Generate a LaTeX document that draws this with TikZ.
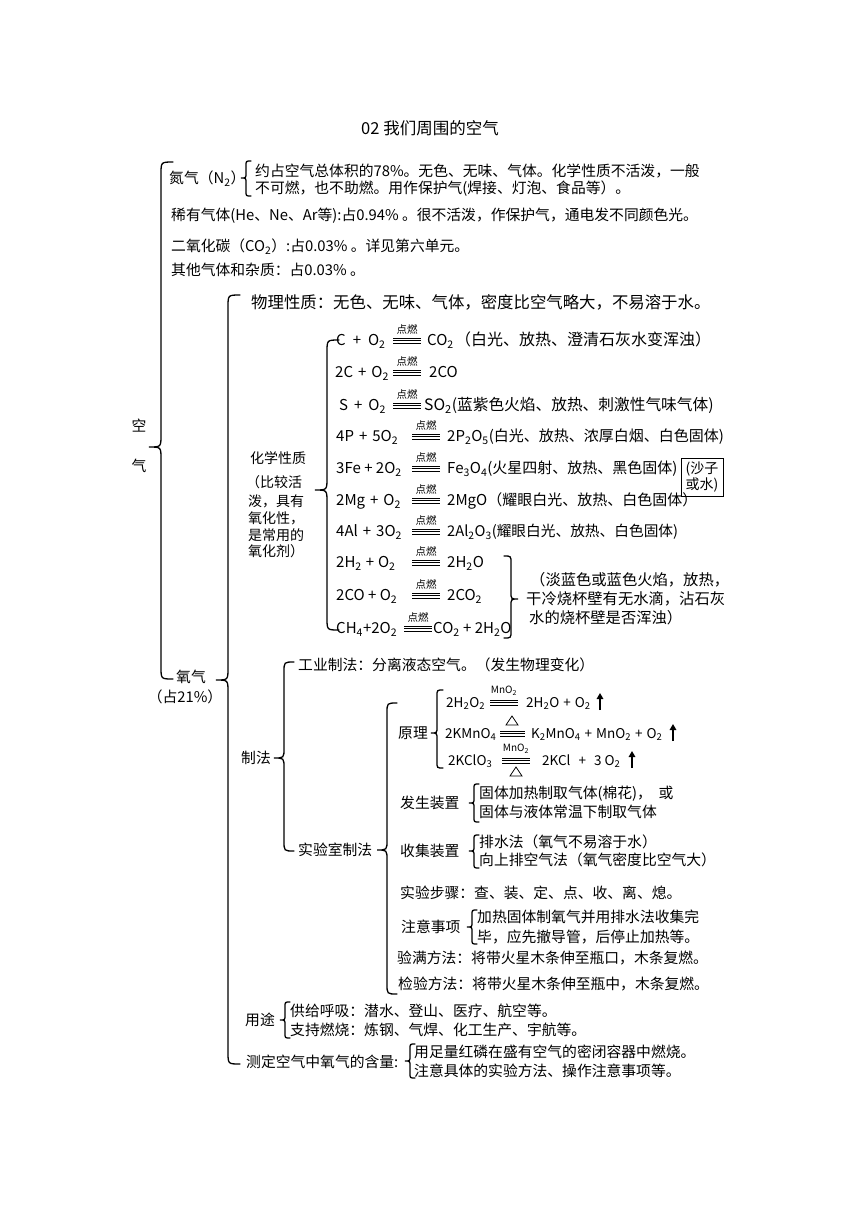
\documentclass[tikz,border=0pt]{standalone}
\usepackage{fontspec}
\setmainfont{Noto Sans CJK SC}
\usetikzlibrary{arrows.meta}
\newcommand\fA{\fontsize{14.8pt}{17pt}\selectfont}
\newcommand\fC{\fontsize{15pt}{17pt}\selectfont}
\newcommand\fF{\fontsize{13.5pt}{16pt}\selectfont}
\newcommand\fL{\fontsize{10.5pt}{11pt}\selectfont}
\newcommand\sbs[1]{\textsubscript{#1}}
\newcommand\pls[1]{\hspace{#1pt}+\hspace{#1pt}}
\newcommand\lbr[5]{\draw[brc] ({#1+#5},#2) .. controls (#1,#2) .. (#1,{#2+#5}) -- (#1,{#3-#5}) .. controls (#1,#3) .. ({#1-#5},#3) .. controls (#1,#3) .. (#1,{#3+#5}) -- (#1,{#4-#5}) .. controls (#1,#4) .. ({#1+#5},#4);}
\newcommand\rbr[5]{\draw[brc] ({#1-#5},#2) .. controls (#1,#2) .. (#1,{#2+#5}) -- (#1,{#3-#5}) .. controls (#1,#3) .. ({#1+#5},#3) .. controls (#1,#3) .. (#1,{#3+#5}) -- (#1,{#4-#5}) .. controls (#1,#4) .. ({#1-#5},#4);}
\newcommand\eql[3]{\draw[eqln] (#1,{#3-2}) -- (#2,{#3-2}) (#1,{#3+0.6}) -- (#2,{#3+0.6}) (#1,{#3+3.2}) -- (#2,{#3+3.2});}
\newcommand\uar[2]{\draw[uarr] (#1,{#2+8}) -- (#1,{#2-9});}
\newcommand\tri[2]{\draw[line width=0.8pt, line join=miter] ({#1-6},{#2+4}) -- (#1,{#2-5}) -- ({#1+6},{#2+4}) -- cycle;}
\begin{document}
\begin{tikzpicture}[x=1pt,y=-1pt,
  brc/.style={line width=1.3pt, line cap=round},
  eqln/.style={line width=0.7pt},
  uarr/.style={line width=1.8pt, -{Triangle[width=6.5pt,length=6pt]}},
  tx/.style={anchor=base west, inner sep=0pt, yshift=-5.5pt, font=\fA},
  cx/.style={anchor=base west, inner sep=0pt, yshift=-5.5pt, font=\fC},
  fx/.style={anchor=base west, inner sep=0pt, yshift=-5.5pt, font=\fF},
  ctx/.style={inner sep=0pt, font=\fA},
  lab/.style={inner sep=0pt, font=\fL}]
\fill[white] (0,0) rectangle (860,1216);
\useasboundingbox (0,0) rectangle (860,1216);

% title
\node[inner sep=0pt, font=\fontsize{16.5pt}{18pt}\selectfont] (title) at (430,128) {02 我们周围的空气};

% air
\node[ctx] (kong) at (139,426) {空};
\node[ctx] (qi) at (139,466) {气};
\lbr{161}{162}{447}{679}{12}

\node[tx] (n2) at (169,178) {氮气（N\sbs{2}）};
\lbr{246}{161}{178}{196}{5}
\node[tx] (n2a) at (255,171) {约占空气总体积的78\%。无色、无味、气体。化学性质不活泼，一般};
\node[tx] (n2b) at (255,188) {不可燃，也不助燃。用作保护气(焊接、灯泡、食品等）。};
\node[tx] (rare) at (171,215) {稀有气体(He、Ne、Ar等):占0.94\% 。很不活泼，作保护气，通电发不同颜色光。};
\node[tx] (co2) at (171,246) {二氧化碳（CO\sbs{2}）:占0.03\% 。详见第六单元。};
\node[tx] (other) at (171,270) {其他气体和杂质：占0.03\% 。};

% oxygen
\node[ctx] (o2a) at (191,677) {氧气};
\node[ctx] (o2b) at (185,697) {（占21\%）};
\lbr{228}{295}{680}{1064}{12}

\node[tx, font=\fontsize{16.4pt}{18pt}\selectfont] (phys) at (251,303) {物理性质：无色、无味、气体，密度比空气略大，不易溶于水。};

% chemical properties
\node[tx, font=\fontsize{14pt}{16pt}\selectfont] (c1) at (250,458) {化学性质};
\node[tx, font=\fontsize{14pt}{16pt}\selectfont] (c2) at (246,482) {（比较活};
\node[tx, font=\fontsize{14pt}{16pt}\selectfont] (c3) at (248,501) {泼，具有};
\node[tx, font=\fontsize{14pt}{16pt}\selectfont] (c4) at (248,518) {氧化性，};
\node[tx, font=\fontsize{14pt}{16pt}\selectfont] (c5) at (248,535) {是常用的};
\node[tx, font=\fontsize{14pt}{16pt}\selectfont] (c6) at (248,551) {氧化剂）};
\lbr{327}{340}{490}{630}{12}

\node[cx] (r1) at (336,340) {C\pls{7}O\sbs{2}};
\eql{393}{421}{340} \node[lab] (e1) at (407,329) {点燃};
\node[cx] (p1) at (427,340) {CO\sbs{2}};
\node[cx, font=\fontsize{16pt}{18pt}\selectfont] (p1b) at (455,340) {（白光、放热、澄清石灰水变浑浊）};

\node[cx] (r2) at (335,372) {2C\pls{5}O\sbs{2}};
\eql{393}{421}{372} \node[lab] (e2) at (407,361) {点燃};
\node[cx] (p2) at (429,372) {2CO};

\node[cx] (r3) at (339,405) {S\pls{6}O\sbs{2}};
\eql{393}{421}{405} \node[lab] (e3) at (407,394) {点燃};
\node[cx, font=\fontsize{15.7pt}{18pt}\selectfont] (p3) at (424,405) {SO\sbs{2}(蓝紫色火焰、放热、刺激性气味气体)};

\node[cx] (r4) at (336,436) {4P\pls{5}5O\sbs{2}};
\eql{412}{440}{436} \node[lab] (e4) at (426,425) {点燃};
\node[cx] (p4) at (447,436) {2P\sbs{2}O\sbs{5}(白光、放热、浓厚白烟、白色固体)};

\node[cx] (r5) at (336,468) {3Fe + 2O\sbs{2}};
\eql{412}{440}{468} \node[lab] (e5) at (426,457) {点燃};
\node[cx] (p5) at (447,468) {Fe\sbs{3}O\sbs{4}(火星四射、放热、黑色固体)};
\node[draw, line width=0.8pt, inner sep=0pt, minimum width=42pt, minimum height=38pt, align=center,
  font=\fontsize{14pt}{16pt}\selectfont] (box) at (702,477) {(沙子\\或水)};

\node[cx] (r6) at (336,500) {2Mg\pls{5}O\sbs{2}};
\eql{412}{440}{500} \node[lab] (e6) at (426,489) {点燃};
\node[cx] (p6) at (447,500) {2MgO（耀眼白光、放热、白色固体）};

\node[cx] (r7) at (336,531) {4Al\pls{5}3O\sbs{2}};
\eql{412}{440}{531} \node[lab] (e7) at (426,520) {点燃};
\node[cx, font=\fontsize{14.7pt}{17pt}\selectfont] (p7) at (447,531) {2Al\sbs{2}O\sbs{3}(耀眼白光、放热、白色固体)};

\node[cx] (r8) at (336,562) {2H\sbs{2}\pls{4}O\sbs{2}};
\eql{412}{440}{562} \node[lab] (e8) at (426,551) {点燃};
\node[cx] (p8) at (447,562) {2H\sbs{2}O};

\node[cx] (r9) at (336,595) {2CO + O\sbs{2}};
\eql{412}{440}{595} \node[lab] (e9) at (426,584) {点燃};
\node[cx] (p9) at (447,595) {2CO\sbs{2}};

\node[cx] (r10) at (336,628) {CH\sbs{4}+2O\sbs{2}};
\eql{404}{432}{628} \node[lab] (e10) at (418,617) {点燃};
\node[cx] (p10) at (433,628) {CO\sbs{2} + 2H\sbs{2}O};

\rbr{511}{556}{599}{638}{7}
\node[tx, font=\fontsize{15.3pt}{17pt}\selectfont] (t1) at (530,580) {（淡蓝色或蓝色火焰，放热，};
\node[tx, font=\fontsize{15.3pt}{17pt}\selectfont] (t2) at (526,599) {干冷烧杯壁有无水滴，沾石灰};
\node[tx, font=\fontsize{15.3pt}{17pt}\selectfont] (t3) at (529,618) {水的烧杯壁是否浑浊）};

% preparation
\node[tx] (zf) at (241,758) {制法};
\lbr{284}{662}{758}{851}{10}
\node[tx] (gy) at (298,665) {工业制法：分离液态空气。（发生物理变化）};
\node[tx] (sys) at (298,850) {实验室制法};
\lbr{387}{703}{850}{994}{10}

\node[tx] (yl) at (398,733) {原理};
\lbr{437}{690}{733}{768}{6}
\node[fx] (ya1) at (446,702) {2H\sbs{2}O\sbs{2}};
\eql{490}{518}{702} \node[lab, font=\fontsize{10pt}{10pt}\selectfont] (ea) at (504,691) {MnO\sbs{2}};
\node[fx] (yb1) at (526,702) {2H\sbs{2}O\pls{4}O\sbs{2}};
\uar{600}{702}

\node[fx] (ya2) at (445,733) {2KMnO\sbs{4}};
\eql{500}{525}{733} \tri{512}{721}
\node[fx] (yb2) at (531,733) {K\sbs{2}MnO\sbs{4}\pls{4}MnO\sbs{2}\pls{4}O\sbs{2}};
\uar{673}{733}

\node[fx] (ya3) at (448,760) {2KClO\sbs{3}};
\eql{502}{530}{760} \node[lab, font=\fontsize{10pt}{10pt}\selectfont] (ec) at (516,749) {MnO\sbs{2}};
\tri{516}{772}
\node[fx] (yb3) at (542,760) {2KCl\pls{8}3\hspace{3pt}O\sbs{2}};
\uar{632}{760}

\node[tx] (fs) at (400,803) {发生装置};
\lbr{474}{784}{803}{822}{5}
\node[tx] (fs1) at (479,793) {固体加热制取气体(棉花)，\ \ 或};
\node[tx] (fs2) at (479,812) {固体与液体常温下制取气体};

\node[tx] (sj) at (400,851) {收集装置};
\lbr{474}{835}{851}{868}{5}
\node[tx] (sj1) at (479,842) {排水法（氧气不易溶于水）};
\node[tx] (sj2) at (479,860) {向上排空气法（氧气密度比空气大）};

\node[tx] (bz) at (400,893) {实验步骤：查、装、定、点、收、离、熄。};

\node[tx] (zy) at (401,927) {注意事项};
\lbr{472}{910}{927}{944}{5}
\node[tx] (zy1) at (477,917) {加热固体制氧气并用排水法收集完};
\node[tx] (zy2) at (477,937) {毕，应先撤导管，后停止加热等。};

\node[tx] (ym) at (397,958) {验满方法：将带火星木条伸至瓶口，木条复燃。};
\node[tx] (jy) at (398,984) {检验方法：将带火星木条伸至瓶中，木条复燃。};

% uses
\node[tx] (yt) at (245,1020) {用途};
\lbr{285}{1002}{1020}{1038}{5}
\node[tx] (yt1) at (290,1011) {供给呼吸：潜水、登山、医疗、航空等。};
\node[tx] (yt2) at (290,1030) {支持燃烧：炼钢、气焊、化工生产、宇航等。};

\node[tx] (cd) at (246,1062) {测定空气中氧气的含量:};
\lbr{410}{1044}{1061}{1078}{5}
\node[tx] (cd1) at (414,1052) {用足量红磷在盛有空气的密闭容器中燃烧。};
\node[tx] (cd2) at (414,1071) {注意具体的实验方法、操作注意事项等。};
\end{tikzpicture}
\end{document}
